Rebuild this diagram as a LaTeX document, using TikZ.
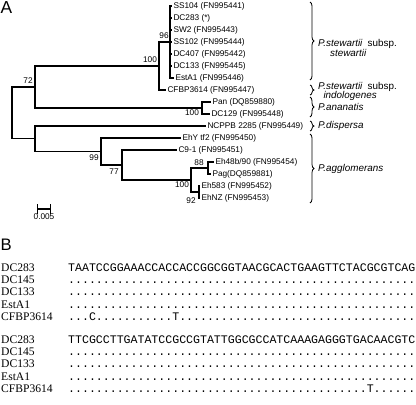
\documentclass[tikz,border=0pt]{standalone}
\usepackage{fontspec}
\setmainfont{Liberation Serif}
\setsansfont{Liberation Sans}
\setmonofont{Liberation Mono}
\usepackage{tikz}
\usetikzlibrary{shapes,arrows,decorations.pathreplacing}
\newcommand{\dten}{..........}

\begin{document}
\begin{tikzpicture}[x=0.75pt, y=-0.75pt, line width=1pt,
  leaf/.style={anchor=west, inner sep=1pt, font=\fontsize{6.2}{7}\sffamily},
  boot/.style={inner sep=0pt, font=\fontsize{6.2}{7}\sffamily},
  clade/.style={anchor=west, inner sep=0pt, align=left, font=\fontsize{7.4}{7.2}\sffamily\itshape},
  brc/.style={decorate, decoration={brace, amplitude=3pt}, line width=0.6pt},
  strain/.style={anchor=base west, inner sep=0pt, font=\fontsize{8.7}{9}\rmfamily},
  seq/.style={anchor=base west, inner sep=0pt, font=\fontsize{8.68}{9}\ttfamily}]

\useasboundingbox (0,0) rectangle (416,404);

% panel A
\node[anchor=north west, inner sep=0pt, font=\fontsize{13}{13}\sffamily] (lblA) at (0,0.5) {A};

\node[leaf] (ss104) at (171.5,6) {SS104 (FN995441)};
\node[leaf] (dc283) at (171.5,18) {DC283 (*)};
\node[leaf] (sw2) at (171.5,30) {SW2 (FN995443)};
\node[leaf] (ss102) at (171.5,42) {SS102 (FN995444)};
\node[leaf] (dc407) at (171.5,54) {DC407 (FN995442)};
\node[leaf] (dc133) at (171.5,66) {DC133 (FN995445)};
\node[leaf] (esta1) at (173.5,78) {EstA1 (FN995446)};
\node[leaf] (cfbp) at (165.5,90) {CFBP3614 (FN995447)};
\node[leaf] (pan) at (210.5,102) {Pan (DQ859880)};
\node[leaf] (dc129) at (209.5,114) {DC129 (FN995448)};
\node[leaf] (ncppb) at (205.5,126) {NCPPB 2285 (FN995449)};
\node[leaf] (ehy) at (180.5,138) {EhY tf2 (FN995450)};
\node[leaf] (c91) at (176.5,150) {C9-1 (FN995451)};
\node[leaf] (eh48) at (213.5,162) {Eh48b/90 (FN995454)};
\node[leaf] (pag) at (210.5,174) {Pag(DQ859881)};
\node[leaf] (eh583) at (199.5,186) {Eh583 (FN995452)};
\node[leaf] (ehnz) at (199.5,198) {EhNZ (FN995453)};

\coordinate (root) at (12,113);
\coordinate (n72) at (35,87);
\coordinate (n100s) at (159,66);
\coordinate (n96) at (170,42);
\coordinate (npan) at (202,108);
\coordinate (nlow) at (35,138.75);
\coordinate (n99) at (101,151.5);
\coordinate (n77) at (122,165);
\coordinate (n100e) at (191,180);
\coordinate (n88) at (208,168);
\coordinate (n92) at (199,192);

\draw (root) |- (n72);
\draw (root) |- (nlow);
\draw (n72) |- (n100s);
\draw (n72) |- (npan);
\draw (n100s) |- (n96);
\draw (n100s) |- (cfbp.west);
\draw (n96) |- (ss104.west);
\draw (n96) |- (dc283.west);
\draw (n96) |- (sw2.west);
\draw (n96) |- (ss102.west);
\draw (n96) |- (dc407.west);
\draw (n96) |- (dc133.west);
\draw (n96) |- (esta1.west);
\draw (npan) |- (pan.west);
\draw (npan) |- (dc129.west);
\draw (nlow) |- (ncppb.west);
\draw (nlow) |- (n99);
\draw (n99) |- (ehy.west);
\draw (n99) |- (n77);
\draw (n77) |- (c91.west);
\draw (n77) |- (n100e);
\draw (n100e) |- (n88);
\draw (n100e) |- (n92);
\draw (n88) |- (eh48.west);
\draw (n88) |- (pag.west);
\draw (n92) |- (eh583.west);
\draw (n92) |- (ehnz.west);

\node[boot] (b72) at (28,81) {72};
\node[boot] (b100s) at (150,60) {100};
\node[boot] (b96) at (164,36) {96};
\node[boot] (b100p) at (192,113) {100};
\node[boot] (b99) at (94,158) {99};
\node[boot] (b77) at (114,172) {77};
\node[boot] (b88) at (199,163) {88};
\node[boot] (b100e) at (182,185) {100};
\node[boot] (b92) at (191,201) {92};

% scale bar
\coordinate (sbl) at (37,209);
\coordinate (sbr) at (51,209);
\draw[|-|, line width=0.8pt] (sbl) -- (sbr);
\node[boot] (sbtxt) at (44,217) {0.005};

% clades
\coordinate (br1a) at (310,2);
\coordinate (br1b) at (310,80);
\coordinate (br2a) at (310,85);
\coordinate (br2b) at (310,95);
\coordinate (br3a) at (310,97);
\coordinate (br3b) at (310,117);
\coordinate (br4a) at (310,121);
\coordinate (br4b) at (310,131);
\coordinate (br5a) at (310,134);
\coordinate (br5b) at (310,203);
\draw[brc] (br1a) -- (br1b);
\draw[brc] (br2a) -- (br2b);
\draw[brc] (br3a) -- (br3b);
\draw[brc] (br4a) -- (br4b);
\draw[brc] (br5a) -- (br5b);

\node[clade] (cl1) at (317.5,48) {P.stewartii\hspace{4pt}{\upshape subsp.}\\\hspace*{9pt}stewartii};
\node[clade] (cl2) at (317.5,91.5) {P.stewartii\hspace{4pt}{\upshape subsp.}\\\hspace*{4pt}indologenes};
\node[clade] (cl3) at (317.5,107) {P.ananatis};
\node[clade] (cl4) at (317.5,126) {P.dispersa};
\node[clade] (cl5) at (317.5,169) {P.agglomerans};

% panel B
\node[anchor=north west, inner sep=0pt, font=\fontsize{12.5}{12.5}\sffamily] (lblB) at (0,238) {B};

\node[strain] (na1) at (0.5,271) {DC283};
\node[strain] (na2) at (0.5,283.4) {DC145};
\node[strain] (na3) at (0.5,295.8) {DC133};
\node[strain] (na4) at (0.5,308.2) {EstA1};
\node[strain] (na5) at (0.5,320.6) {CFBP3614};
\node[seq] (sa1) at (67.5,271) {TAATCCGGAAACCACCACCGGCGGTAACGCACTGAAGTTCTACGCGTCAG};
\node[seq] (sa2) at (67.5,283.4) {\dten\dten\dten\dten\dten};
\node[seq] (sa3) at (67.5,295.8) {\dten\dten\dten\dten\dten};
\node[seq] (sa4) at (67.5,308.2) {\dten\dten\dten\dten\dten};
\node[seq] (sa5) at (67.5,320.6) {...C\dten.T\dten\dten\dten....};

\node[strain] (nb1) at (0.5,343) {DC283};
\node[strain] (nb2) at (0.5,355.4) {DC145};
\node[strain] (nb3) at (0.5,367.8) {DC133};
\node[strain] (nb4) at (0.5,380.2) {EstA1};
\node[strain] (nb5) at (0.5,392.6) {CFBP3614};
\node[seq] (sb1) at (67.5,343) {TTCGCCTTGATATCCGCCGTATTGGCGCCATCAAAGAGGGTGACAACGTC};
\node[seq] (sb2) at (67.5,355.4) {\dten\dten\dten\dten\dten};
\node[seq] (sb3) at (67.5,367.8) {\dten\dten\dten\dten\dten};
\node[seq] (sb4) at (67.5,380.2) {\dten\dten\dten\dten\dten};
\node[seq] (sb5) at (67.5,392.6) {\dten\dten\dten\dten...T......};
\end{tikzpicture}
\end{document}
